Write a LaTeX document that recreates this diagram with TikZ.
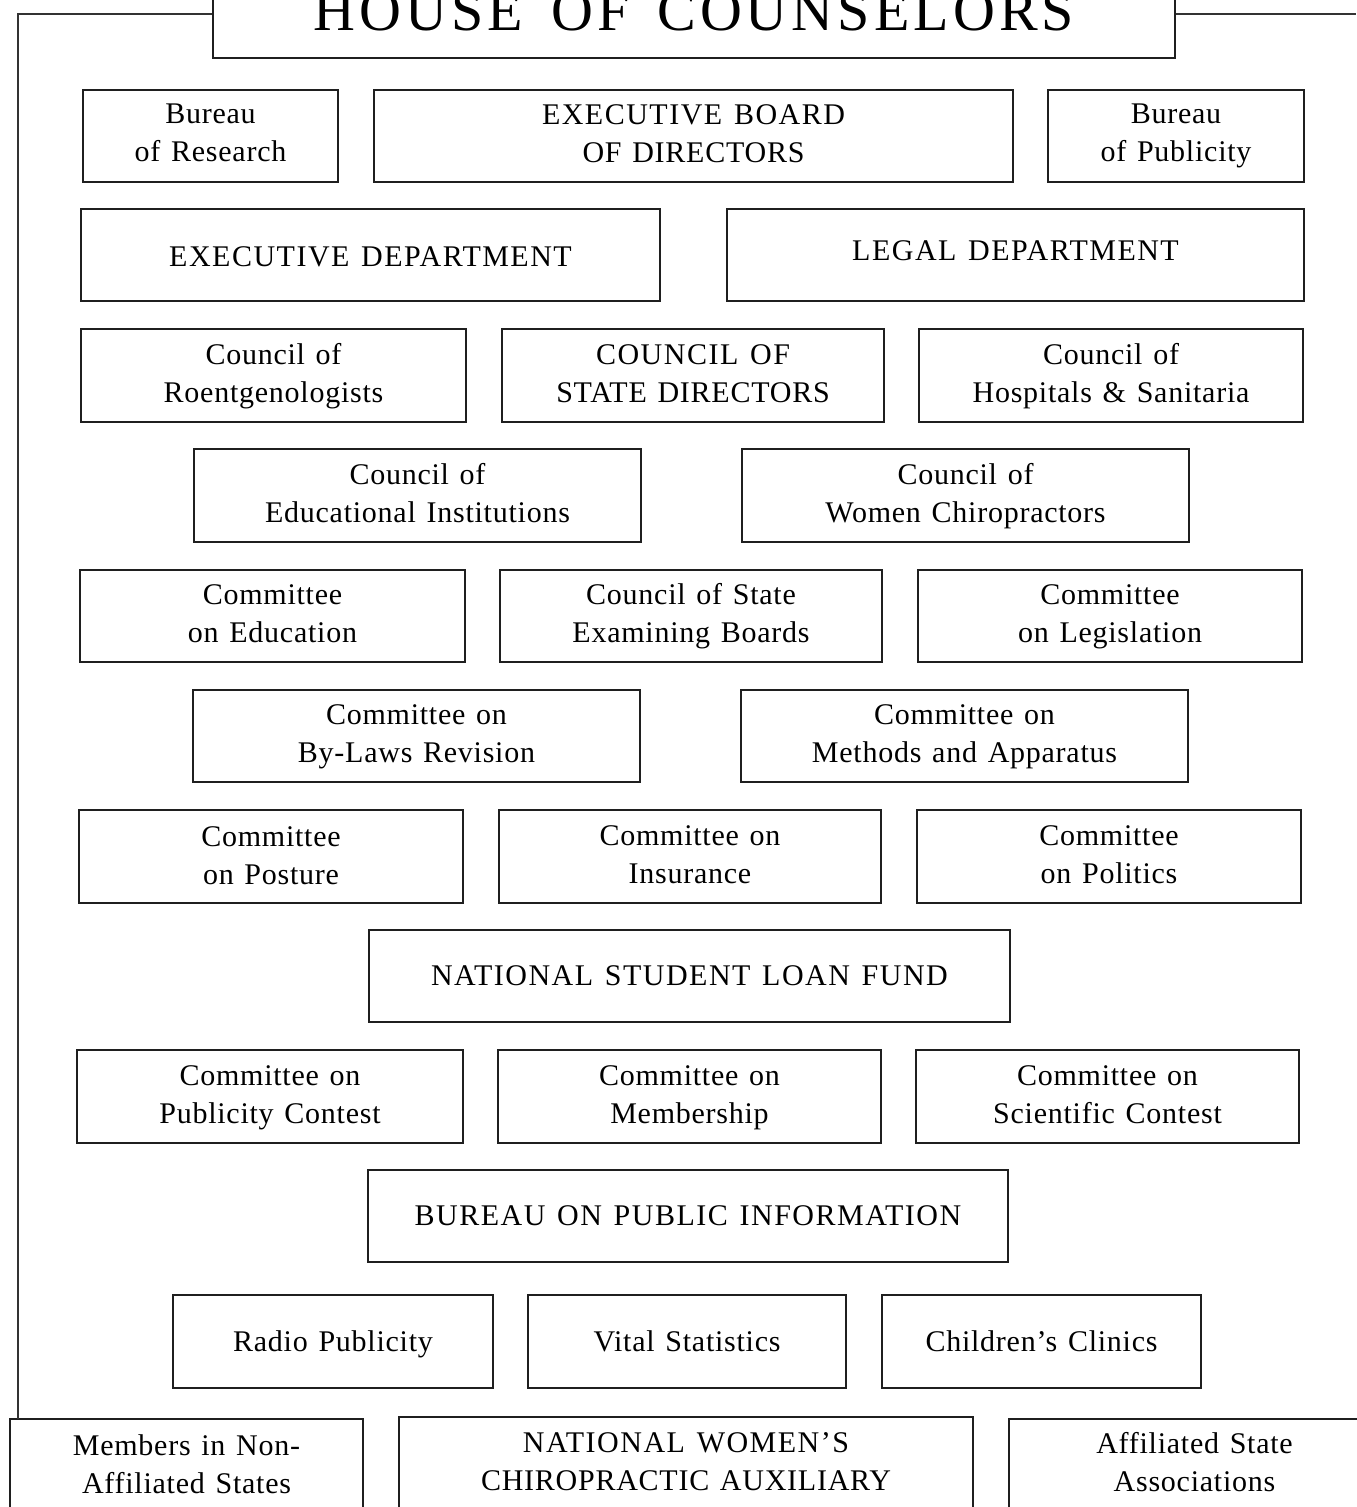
\documentclass[tikz,border=0pt]{standalone}
\usepackage{fontspec}
\setmainfont{Liberation Serif}[LetterSpace=2.5,WordSpace=1.3]
\newfontfamily\capsfont{Liberation Serif}[LetterSpace=5,WordSpace=1.3,Ligatures=TeX]
\newfontfamily\titlefont{Liberation Serif}[LetterSpace=7,WordSpace=1.5]
\tikzset{
  ob/.style={draw=black!88, line width=1.4pt, inner sep=0pt},
  obt/.style={inner sep=0pt, align=center, font=\fontsize{15}{19}\selectfont},
  link/.style={draw=black!80, line width=0.8pt}
}
\newcommand\two[2]{\strut#1\\\strut#2}
\newcommand\one[1]{\strut#1}
\newcommand\ob[7][0pt]{%
  \node[ob, minimum width={(#4-#3)*0.5pt}, minimum height={(#6-#5)*0.5pt}]
    (#2) at ({(#3+#4)/2},{(#5+#6)/2}) {};
  \node[obt, yshift=#1] (#2-t) at (#2.center) {#7};}
\begin{document}
\begin{tikzpicture}[x=0.5pt,y=-0.5pt]
\useasboundingbox (0,0) rectangle (1356,1507);
\fill[white] (0,0) rectangle (1356,1507);
% top
\node[ob, minimum width={(1175-213)*0.5pt}, minimum height={(58+30)*0.5pt}] (hc) at ({(213+1175)/2},14) {};
\node[font=\titlefont\fontsize{29}{30}\selectfont, inner sep=0pt, yshift=1.2pt] (hct) at (hc.center) {HOUSE OF COUNSELORS};
\coordinate (tl) at (18,14);
\coordinate (bl) at (18,1419);
\coordinate (tr) at (1356,14);
% row 1
\ob[0.3pt]{br}{83}{338}{90}{182}{\two{Bureau}{of Research}}
\ob[0.2pt]{ebd}{374}{1013}{90}{182}{\capsfont\two{EXECUTIVE BOARD}{OF DIRECTORS}}
\ob[0.3pt]{bp}{1048}{1304}{90}{182}{\two{Bureau}{of Publicity}}
% row 2
\ob[-2.2pt]{ed}{81}{660}{209}{301}{\capsfont\one{EXECUTIVE DEPARTMENT}}
\ob[0.8pt]{ld}{727}{1304}{209}{301}{\capsfont\one{LEGAL DEPARTMENT}}
% row 3
\ob{cr}{81}{466}{329}{422}{\two{Council of}{Roentgenologists}}
\ob{csd}{502}{884}{329}{422}{\capsfont\two{COUNCIL OF}{STATE DIRECTORS}}
\ob{chs}{919}{1303}{329}{422}{\two{Council of}{Hospitals \& Sanitaria}}
% row 4
\ob{cei}{194}{641}{449}{542}{\two{Council of}{Educational Institutions}}
\ob{cwc}{742}{1189}{449}{542}{\two{Council of}{Women Chiropractors}}
% row 5
\ob{ce}{80}{465}{570}{662}{\two{Committee}{on Education}}
\ob{cseb}{500}{882}{570}{662}{\two{Council of State}{Examining Boards}}
\ob{cl}{918}{1302}{570}{662}{\two{Committee}{on Legislation}}
% row 6
\ob{cbl}{193}{640}{690}{782}{\two{Committee on}{By-Laws Revision}}
\ob{cma}{741}{1188}{690}{782}{\two{Committee on}{Methods and Apparatus}}
% row 7
\ob[-0.5pt]{cpo}{79}{463}{810}{903}{\two{Committee}{on Posture}}
\ob{ci}{499}{881}{810}{903}{\two{Committee on}{Insurance}}
\ob{cpl}{917}{1301}{810}{903}{\two{Committee}{on Politics}}
% row 8
\ob[-1pt]{nslf}{369}{1010}{930}{1022}{\capsfont\one{NATIONAL STUDENT LOAN FUND}}
% row 9
\ob[-0.2pt]{cpc}{77}{463}{1050}{1143}{\two{Committee on}{Publicity Contest}}
\ob{cm}{498}{881}{1050}{1143}{\two{Committee on}{Membership}}
\ob{csc}{916}{1299}{1050}{1143}{\two{Committee on}{Scientific Contest}}
% row 10
\ob[-1pt]{bpi}{368}{1008}{1170}{1262}{\capsfont\one{BUREAU ON PUBLIC INFORMATION}}
% row 11
\ob[-1.3pt]{rp}{173}{493}{1295}{1388}{\one{Radio Publicity}}
\ob[-1.2pt]{vs}{528}{846}{1295}{1388}{\one{Vital Statistics}}
\ob[-1.2pt]{cc}{882}{1201}{1295}{1388}{\one{Children’s Clinics}}
% row 12
\ob[-1.9pt]{mn}{10}{363}{1419}{1508}{\two{Members in Non-}{Affiliated States}}
\ob[-0.75pt]{nwca}{399}{973}{1417}{1508}{\capsfont\two{NATIONAL WOMEN’S}{CHIROPRACTIC AUXILIARY}}
\ob[-0.75pt]{asa}{1009}{1380}{1419}{1508}{\two{Affiliated State}{Associations}}
% connectors
\draw[link] (hc.west) -- (tl) -- (bl);
\draw[link] (hc.east) -- (tr);
\end{tikzpicture}
\end{document}
